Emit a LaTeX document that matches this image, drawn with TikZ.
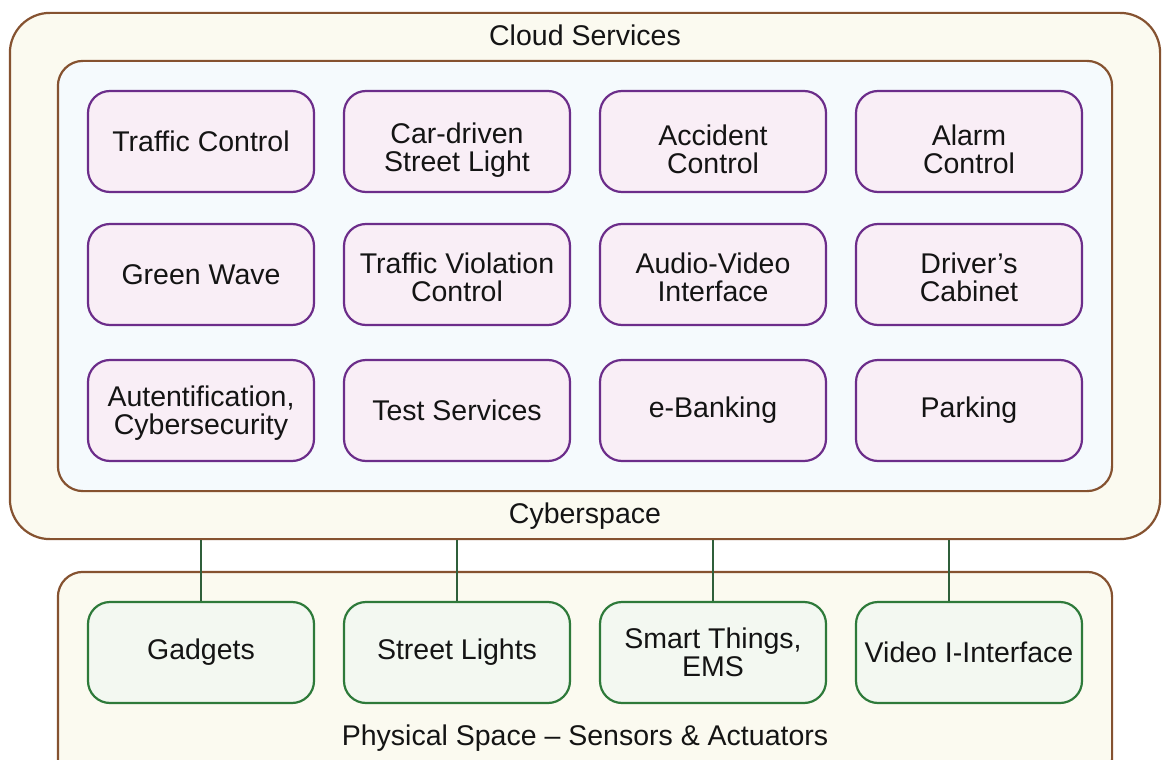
\documentclass[tikz,border=0pt]{standalone}
\usepackage{fontspec}
\setmainfont{Liberation Sans}
\usetikzlibrary{positioning, fit, backgrounds, calc}
\definecolor{frame}{RGB}{133, 82, 48}
\definecolor{cream}{RGB}{251, 250, 240}
\definecolor{skybg}{RGB}{245, 250, 253}
\definecolor{plum}{RGB}{108, 45, 138}
\definecolor{plumbg}{RGB}{249, 238, 246}
\definecolor{leaf}{RGB}{46, 122, 58}
\definecolor{leafbg}{RGB}{243, 248, 241}
\definecolor{wire}{RGB}{47, 95, 58}
\definecolor{ink}{RGB}{20, 20, 20}
\newcommand\lift[1]{\rule{0pt}{#1}}

\begin{document}
\begin{tikzpicture}[x=1pt, y=1pt,
    svc/.style={draw=plum, fill=plumbg, line width=2.2pt, rounded corners=22pt, minimum width=226pt, minimum height=101pt, inner sep=2pt, align=center, text=ink, font=\fontsize{28.5}{28}\selectfont},
    dev/.style={svc, draw=leaf, fill=leafbg},
    zone/.style={draw=frame, line width=2.2pt},
    lbl/.style={text=ink, font=\fontsize{28.5}{28}\selectfont},
    link/.style={draw=wire, line width=2pt}
]
    \useasboundingbox (0,0) rectangle (1168,-760);

    % services
    \node[svc] (traffic) at (201,-141.5) {Traffic Control};
    \node[svc, right=27.8pt of traffic] (carlight) {\lift{37pt}Car-driven\\Street Light};
    \node[svc, right=27.8pt of carlight] (accident) {\lift{37pt}Accident\\Control};
    \node[svc, right=27.8pt of accident] (alarm) {\lift{37pt}Alarm\\Control};

    \node[svc, below=29.8pt of traffic] (greenwave) {Green Wave};
    \node[svc, right=27.8pt of greenwave] (violation) {\lift{26pt}Traffic Violation\\Control};
    \node[svc, right=27.8pt of violation] (audiovideo) {\lift{26pt}Audio-Video\\Interface};
    \node[svc, right=27.8pt of audiovideo] (cabinet) {\lift{26pt}Driver's\\Cabinet};

    \node[svc, below=32.8pt of greenwave] (auth) {\lift{25pt}Autentification,\\Cybersecurity};
    \node[svc, right=27.8pt of auth] (tests) {Test Services};
    \node[svc, right=27.8pt of tests] (banking) {e-Banking};
    \node[svc, right=27.8pt of banking] (parking) {Parking};

    % devices
    \node[dev, below=138.8pt of auth] (gadgets) {Gadgets};
    \node[dev, right=27.8pt of gadgets] (lights) {Street Lights};
    \node[dev, right=27.8pt of lights] (things) {Smart Things,\\EMS};
    \node[dev, right=27.8pt of things] (video) {Video I-Interface};

    \node[lbl] (physlbl) at ($(gadgets.south)!0.5!(video.south)+(0,-34)$) {Physical Space -- Sensors \& Actuators};

    \begin{scope}[on background layer]
        \node[zone, fill=cream, rounded corners=40pt, inner sep=77pt, fit=(traffic)(parking)] (cloud) {};
        \node[zone, fill=skybg, rounded corners=25pt, inner sep=29pt, fit=(traffic)(parking)] (cyber) {};
        \node[zone, fill=cream, rounded corners=25pt, inner sep=29pt, fit=(gadgets)(video)(physlbl)] (phys) {};
    \end{scope}

    \node[lbl] (cloudlbl) at ([yshift=-24pt]cloud.north) {Cloud Services};
    \node[lbl] (cyberlbl) at ([yshift=24pt]cloud.south) {Cyberspace};

    \coordinate[xshift=-20pt] (videotop) at (video.north);
    \draw[link] (gadgets.north) -- (gadgets.north |- cloud.south);
    \draw[link] (lights.north) -- (lights.north |- cloud.south);
    \draw[link] (things.north) -- (things.north |- cloud.south);
    \draw[link] (videotop) -- (videotop |- cloud.south);
\end{tikzpicture}
\end{document}
